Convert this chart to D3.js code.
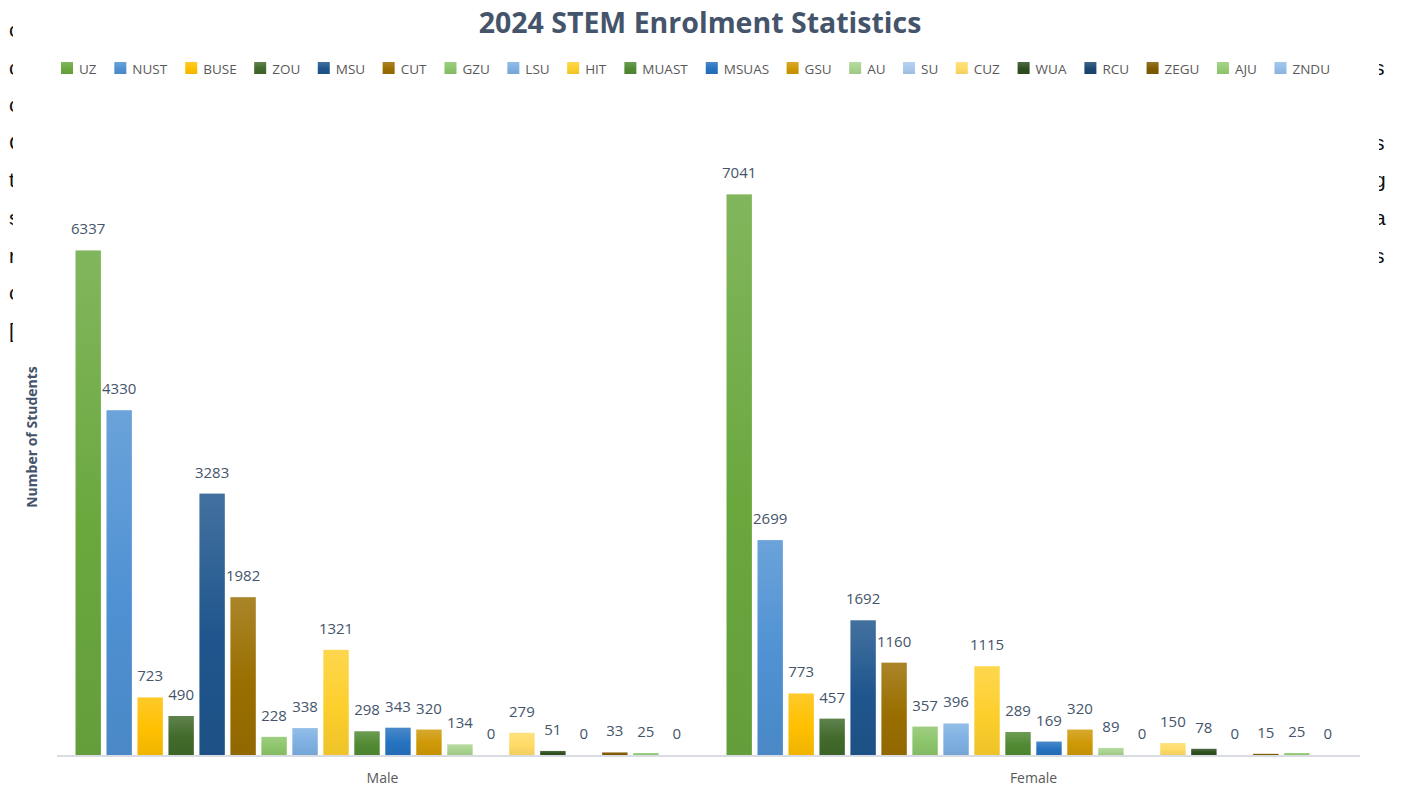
<!DOCTYPE html>
<html>
<head>
<meta charset="utf-8">
<script src="https://cdn.jsdelivr.net/npm/d3@7"></script>
<style>
  body { margin: 0; background: #fff; }
  text { font-family: "Open Sans", "Noto Sans", sans-serif; }
</style>
</head>
<body>
<div id="chart_div"></div>
<script>
// data
var genders = ["Male", "Female"];
var universities = ["UZ", "NUST", "BUSE", "ZOU", "MSU", "CUT", "GZU", "LSU", "HIT", "MUAST",
                    "MSUAS", "GSU", "AU", "SU", "CUZ", "WUA", "RCU", "ZEGU", "AJU", "ZNDU"];
var maleCounts   = [6337, 4330, 723, 490, 3283, 1982, 228, 338, 1321, 298, 343, 320, 134, 0, 279, 51, 0, 33, 25, 0];
var femaleCounts = [7041, 2699, 773, 457, 1692, 1160, 357, 396, 1115, 289, 169, 320, 89, 0, 150, 78, 0, 15, 25, 0];
var uniColors = ["#6aa83e", "#4f91d3", "#ffc000", "#416a2b", "#1f568d", "#9a6e00", "#8cc56a", "#7eb0e2",
                 "#fdcf2c", "#518a33", "#2673c0", "#cf9906", "#a9d38f", "#a8c9ec", "#ffdb66",
                 "#2f4f1f", "#1c4772", "#7f5a00", "#95cc74", "#93bde8"];
// letters of the page text peeking out behind the chart
var leftBits  = ["c", "c", "c", "C", "t", "s", "r", "c", "["];
var rightBits = [",", "s", ".", "s", "g", "a", "s", "."];

var svg = d3.select("#chart_div").append("svg").attr("width", 1405).attr("height", 789),
    margin = {top: 118, right: 45, bottom: 34, left: 57},
    width = 1405 - margin.left - margin.right,
    height = 789 - margin.top - margin.bottom;

// background document fragments
svg.selectAll(".lbit").data(leftBits).enter().append("text")
    .attr("x", 9).attr("y", function (d, i) { return 37 + i * 37.6; })
    .style("font-family", "'Liberation Sans', Arial, sans-serif")
    .style("font-size", "21px").attr("fill", "#111").text(function (d) { return d; });
svg.selectAll(".rbit").data(rightBits).enter().append("text")
    .attr("x", 1374).attr("y", function (d, i) { return 37 + i * 37.6; })
    .style("font-family", "'Liberation Sans', Arial, sans-serif")
    .style("font-size", "21px").attr("fill", "#111").text(function (d) { return d; });
svg.append("rect").attr("x", 13).attr("y", 0).attr("width", 1366).attr("height", 789).attr("fill", "#fff");

var defs = svg.append("defs");
uniColors.forEach(function (c, i) {
    var g = defs.append("linearGradient").attr("id", "grad" + i)
        .attr("x1", 0).attr("y1", 0).attr("x2", 0).attr("y2", 1);
    g.append("stop").attr("offset", "0%").attr("stop-color", d3.interpolateRgb(c, "#fff")(0.16));
    g.append("stop").attr("offset", "55%").attr("stop-color", c);
    g.append("stop").attr("offset", "100%").attr("stop-color", d3.interpolateRgb(c, "#000")(0.06));
});

var g = svg.append("g").attr("transform", "translate(" + margin.left + "," + margin.top + ")");

var x0 = d3.scaleBand().domain(genders).range([0, 1302]).padding(0);
var x1 = d3.scaleBand().domain(universities).range([18.5, 632.5]).paddingInner(0.18).paddingOuter(0);
var y = d3.scaleLinear().domain([0, 8000]).range([height, 0]);

var rows = genders.map(function (gname, gi) {
    var vals = gi === 0 ? maleCounts : femaleCounts;
    return {gender: gname, values: universities.map(function (u, i) { return {uni: u, i: i, value: vals[i]}; })};
});

// axis line
g.append("line").attr("x1", 0).attr("x2", 1303).attr("y1", height + 1).attr("y2", height + 1)
    .attr("stroke", "#d9dde3").attr("stroke-width", 2);

var groups = g.selectAll(".grp").data(rows).enter().append("g")
    .attr("transform", function (d) { return "translate(" + x0(d.gender) + ",0)"; });

groups.selectAll("rect").data(function (d) { return d.values; }).enter().append("rect")
    .attr("x", function (d) { return x1(d.uni); })
    .attr("y", function (d) { return y(d.value); })
    .attr("width", x1.bandwidth())
    .attr("height", function (d) { return height - y(d.value); })
    .attr("fill", function (d) { return "url(#grad" + d.i + ")"; });

groups.selectAll(".val").data(function (d) { return d.values; }).enter().append("text")
    .attr("x", function (d) { return x1(d.uni) + x1.bandwidth() / 2; })
    .attr("y", function (d) { return y(d.value) - 16; })
    .attr("text-anchor", "middle")
    .style("font-size", "15px").attr("fill", "#44546a")
    .text(function (d) { return d.value; });

// category labels
g.selectAll(".cat").data(genders).enter().append("text")
    .attr("x", function (d) { return x0(d) + x0.bandwidth() / 2; })
    .attr("y", height + 28)
    .attr("text-anchor", "middle")
    .style("font-size", "14px").attr("fill", "#595959")
    .text(function (d) { return d; });

// title
svg.append("text").attr("x", 700).attr("y", 33).attr("text-anchor", "middle")
    .style("font-size", "28.5px").style("font-weight", "bold").attr("fill", "#44546a")
    .text("2024 STEM Enrolment Statistics");

// y title
svg.append("text").attr("transform", "translate(37,437) rotate(-90)")
    .attr("text-anchor", "middle")
    .style("font-size", "14px").style("font-weight", "bold").attr("fill", "#44546a")
    .text("Number of Students");

// legend, spread to fill 61..1330
var legend = svg.append("g").attr("transform", "translate(0,68)");
var items = legend.selectAll(".leg").data(universities).enter().append("g");
items.append("rect").attr("width", 12).attr("height", 12).attr("y", -6)
    .attr("fill", function (d, i) { return "url(#grad" + i + ")"; });
items.append("text").attr("x", 18).attr("y", 5.5)
    .style("font-size", "13.5px").attr("fill", "#595959")
    .text(function (d) { return d; });
var widths = [];
items.each(function () { widths.push(this.getBBox().width); });
var gap = (1269 - d3.sum(widths)) / (widths.length - 1);
var pos = 61, offsets = [];
widths.forEach(function (w) { offsets.push(pos); pos += w + gap; });
items.attr("transform", function (d, i) { return "translate(" + offsets[i] + ",0)"; });
</script>
</body>
</html>
